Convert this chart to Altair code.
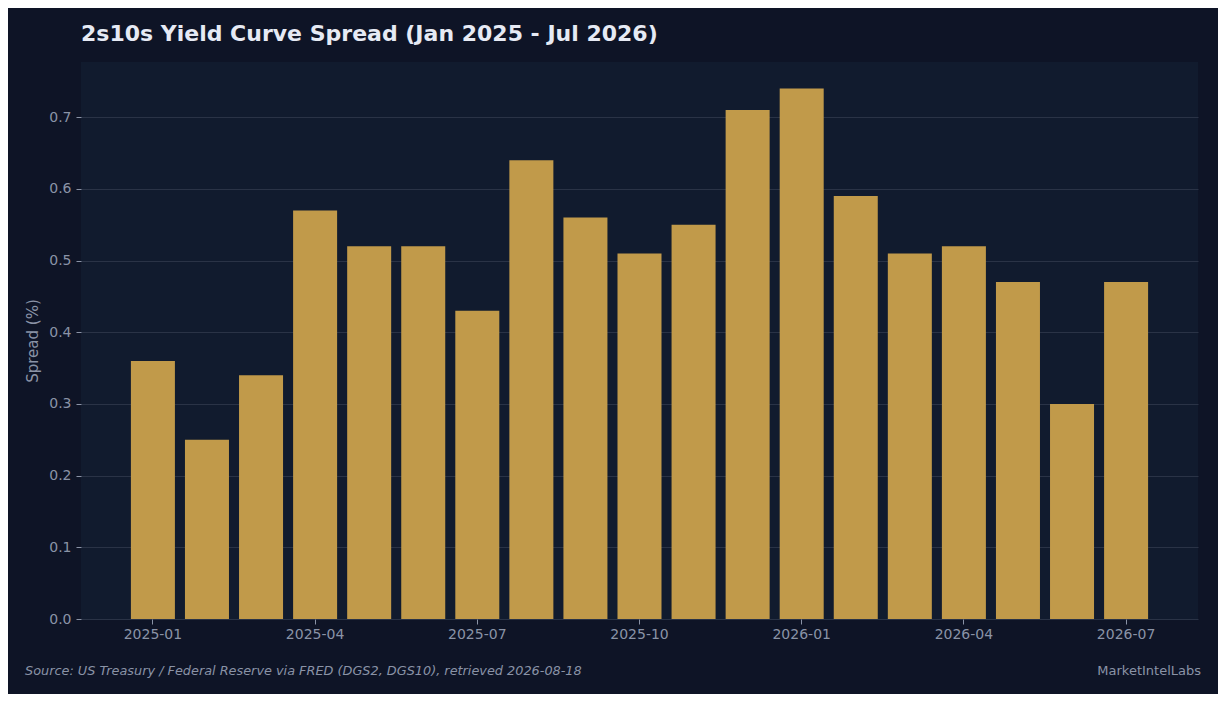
import pandas as pd
import altair as alt

months = ['2025-01', '2025-02', '2025-03', '2025-04', '2025-05', '2025-06',
          '2025-07', '2025-08', '2025-09', '2025-10', '2025-11', '2025-12',
          '2026-01', '2026-02', '2026-03', '2026-04', '2026-05', '2026-06',
          '2026-07']
spread = [0.36, 0.25, 0.34, 0.57, 0.52, 0.52, 0.43, 0.64, 0.56, 0.51,
          0.55, 0.71, 0.74, 0.59, 0.51, 0.52, 0.47, 0.30, 0.47]
tick_labels = ['2025-01', '2025-04', '2025-07', '2025-10', '2026-01', '2026-04', '2026-07']
y_ticks = [0.0, 0.1, 0.2, 0.3, 0.4, 0.5, 0.6, 0.7]

df = pd.DataFrame({'month': months, 'spread': spread})
one_row = pd.DataFrame({'k': [0]})

BG = '#0e1426'
PANEL = '#111b2e'
GOLD = '#c19a4a'
MUTED = '#8a93a6'
FONT = 'DejaVu Sans'

bars = alt.Chart(df).mark_bar(color=GOLD).encode(
    x=alt.X('month:O', sort=months,
            scale=alt.Scale(paddingInner=0.186, paddingOuter=0.923),
            axis=alt.Axis(values=tick_labels, labelAngle=0, title=None, grid=False,
                          labelFontSize=14, labelPadding=3)),
    y=alt.Y('spread:Q',
            scale=alt.Scale(domain=[0, 0.777], nice=False),
            axis=alt.Axis(values=y_ticks, format='.1f', title='Spread (%)',
                          titleFontSize=15, titleFontWeight='normal',
                          titlePadding=8, labelFontSize=14, labelPadding=5)),
)

source = alt.Chart(one_row).mark_text(
    align='left', baseline='middle', fontStyle='italic', fontWeight='normal', fontSize=12.85,
    color=MUTED, font=FONT
).encode(
    x=alt.value(-56), y=alt.value(609),
    text=alt.value('Source: US Treasury / Federal Reserve via FRED (DGS2, DGS10), retrieved 2026-08-18')
)

brand = alt.Chart(one_row).mark_text(
    align='right', baseline='middle', fontWeight='normal', fontSize=13, color=MUTED, font=FONT
).encode(
    x=alt.value(1120), y=alt.value(609),
    text=alt.value('MarketIntelLabs')
)

chart = (bars + source + brand).properties(
    width=1117,
    height=557,
    background=BG,
    padding={'left': 73, 'top': 54, 'right': 20, 'bottom': 75},
    autosize=alt.AutoSizeParams(type='none'),
    title=alt.TitleParams(
        '2s10s Yield Curve Spread (Jan 2025 - Jul 2026)',
        anchor='start', frame='group', fontSize=22, fontWeight='bold',
        color='#e6eaf4', font=FONT, offset=16
    ),
).configure_view(
    fill=PANEL, stroke=None
).configure_axis(
    labelColor=MUTED, titleColor=MUTED, tickColor=MUTED, tickSize=5,
    domain=False, gridColor='#2a3346', gridWidth=1,
    labelFont=FONT, titleFont=FONT
)

chart.save("out.html", embed_options={"renderer": "svg", "actions": False})
